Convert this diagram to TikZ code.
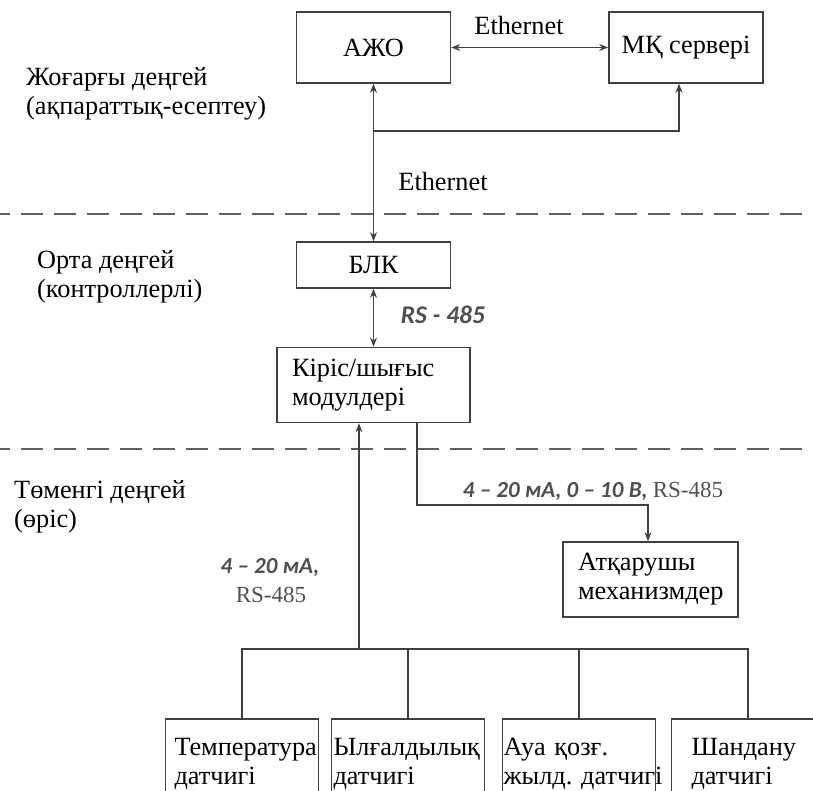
\documentclass[tikz,border=0pt]{standalone}
\usepackage{fontspec}
\setmainfont{Liberation Serif}
\newfontfamily\calib{Carlito}
\usetikzlibrary{arrows.meta}
\definecolor{ln}{HTML}{404040}
\definecolor{lbl}{HTML}{505050}
\definecolor{dsh}{HTML}{606060}
\frenchspacing
\begin{document}
\begin{tikzpicture}[x=1pt,y=-1pt,
  every node/.style={font=\fontsize{26.3}{29}\selectfont, text=black, inner sep=0pt},
  blk/.style={draw=ln, line width=1.6pt, inner sep=0pt},
  conn/.style={draw=ln, line width=1.5pt},
  tip/.style={-{Stealth[length=9pt,width=7pt]}},
  bothtip/.style={{Stealth[length=9pt,width=7pt]}-{Stealth[length=9pt,width=7pt]}},
  dashline/.style={draw=dsh, line width=2pt, dash pattern=on 22pt off 11pt, dash phase=12pt},
  lvl/.style={anchor=base west, align=left, font=\fontsize{26.3}{29}\selectfont},
  sanslbl/.style={font={\calib\fontsize{23}{25}\selectfont\bfseries\itshape}, text=lbl},
  serlbl/.style={font=\fontsize{23}{25}\selectfont, text=lbl}
]
\useasboundingbox (0,0) rectangle (813,791);
\clip (0,0) rectangle (813,791);

% level separators
\coordinate (d1a) at (0,214); \coordinate (d1b) at (813,214);
\coordinate (d2a) at (0,449); \coordinate (d2b) at (813,449);
\draw[dashline] (d1a) -- (d1b);
\draw[dashline] (d2a) -- (d2b);

% level labels (anchor = baseline of last line)
\node[lvl] (lv1) at (26,115) {Жоғарғы деңгей\\(ақпараттық-есептеу)};
\node[lvl] (lv2) at (37,298) {Орта деңгей\\(контроллерлі)};
\node[lvl] (lv3) at (14,527) {Төменгі деңгей\\(өріс)};

% boxes
\node[blk, minimum width=154, minimum height=71] (azho) at (373.5,47.5) {АЖО};
\node[blk, minimum width=154, minimum height=71] (mk) at (686,47.5) {МҚ сервері};
\node[blk, minimum width=154, minimum height=46] (plc) at (373.5,265) {БЛК};
\node[blk, minimum width=193, minimum height=75, text width=163, align=left] (io) at (373.5,385) {Кіріс/шығыс\\модулдері};
\node[blk, minimum width=175, minimum height=75, text width=145, align=left] (act) at (650.5,579.5) {Атқарушы\\механизмдер};

\node[blk, minimum width=153, minimum height=90, text width=135, align=left] (s1) at (242,764) {Температура\\датчигі};
\node[blk, minimum width=153, minimum height=90, text width=149, align=left] (s2) at (408,764) {Ылғалдылық\\датчигі};
\node[blk, minimum width=153, minimum height=90, text width=151, align=left] (s3) at (579,764) {Ауа қозғ.\\\mbox{жылд. датчигі}};
\node[blk, minimum width=153, minimum height=90, text width=113, align=left] (s4) at (748,764) {Шандану\\датчигі};

% top level connections
\draw[conn, bothtip] (azho) -- (mk);
\node (eth1) at (519,26) {Ethernet};
\draw[conn, bothtip] (azho.south) -- (plc.north);
\coordinate (j1) at (373.5,131);
\draw[conn, tip] (j1) -| ([xshift=-7pt]mk.south);
\node (eth2) at (443,182) {Ethernet};

% middle level
\draw[conn, bothtip] (plc) -- (io);
\node[sanslbl, font={\calib\fontsize{25.5}{27}\selectfont\bfseries\itshape}] (rs1) at (443,315) {RS - 485};

% field level
\coordinate (bus1) at (359,649);
\draw[conn, tip] (bus1) -- (bus1 |- io.south);
\coordinate (k0) at (417,505);
\coordinate (k1) at (648,505);
\draw[conn, tip] (k0 |- io.south) -- (k0) -- (k1) -- (k1 |- act.north);
\node[anchor=base] (lab1) at (593,497) {\calib\fontsize{23}{25}\selectfont\bfseries\itshape\color{lbl}4 – 20 мА, 0 – 10 В, \normalfont\fontsize{23}{25}\selectfont\color{lbl}RS-485};
\node[sanslbl] (lab2) at (270,568) {4 – 20 мА,};
\node[serlbl] (lab3) at (271,595) {RS-485};

\draw[conn] (s1.north) -- (s1.north |- bus1) -- (s4.north |- bus1) -- (s4.north);
\draw[conn] (s2.north) -- (s2.north |- bus1);
\draw[conn] (s3.north) -- (s3.north |- bus1);
\end{tikzpicture}
\end{document}
